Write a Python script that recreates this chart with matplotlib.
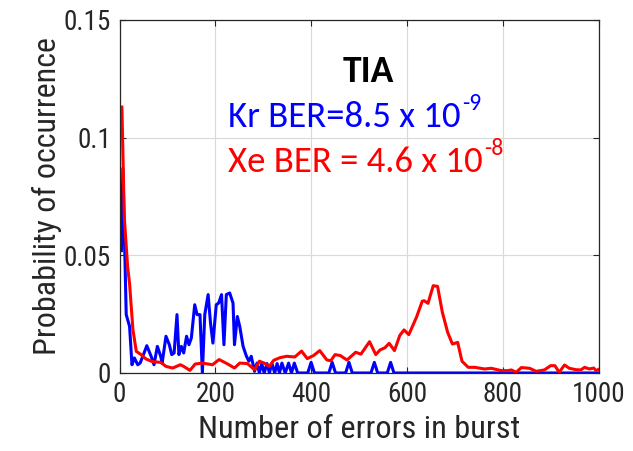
import matplotlib
matplotlib.use("Agg")
import matplotlib.pyplot as plt
from matplotlib import font_manager as fm
from matplotlib.transforms import offset_copy

# ---- data ----
kr_x = [4, 7, 14, 21, 26, 31, 38, 43, 50, 57, 66, 72, 79, 86, 89, 97, 104, 109,
        114, 120, 124, 129, 134, 140, 145, 150, 157, 162, 168, 173, 178, 185, 190,
        195, 202, 207, 213, 218, 223, 230, 237, 240, 246, 251, 258, 265, 270, 275,
        282, 287, 292, 297, 302, 308, 313, 318, 324, 329, 334, 339, 346, 353, 359,
        365, 372, 393, 400, 407, 437, 444, 451, 472, 479, 486, 525, 532, 539, 559,
        566, 573, 1000]
kr_y = [0.052, 0.087, 0.0248, 0.0198, 0.0035, 0.0064, 0.0035, 0.0042, 0.0078,
        0.0116, 0.0071, 0.0035, 0.0113, 0.0071, 0.0042, 0.0156, 0.012, 0.0078,
        0.0085, 0.0248, 0.0078, 0.0113, 0.0085, 0.0156, 0.012, 0.0149, 0.029,
        0.0248, 0.0248, 0.0, 0.0248, 0.0333, 0.0212, 0.0127, 0.029, 0.0297, 0.0333,
        0.012, 0.0333, 0.034, 0.0297, 0.012, 0.024, 0.0198, 0.0113, 0.0071, 0.005,
        0.0071, 0.0007, 0.0042, 0.0, 0.0040, 0.0, 0.0040, 0.0, 0.0042, 0.0, 0.0040,
        0.0, 0.0042, 0.0, 0.0042, 0.0, 0.0042, 0.0, 0.0, 0.0045, 0.0, 0.0, 0.0045,
        0.0, 0.0, 0.0045, 0.0, 0.0, 0.0045, 0.0, 0.0, 0.0045, 0.0, 0.0]

xe_x = [5, 10, 17, 21, 28, 35, 45, 55, 66, 76, 86, 97, 111, 127, 134, 147, 158,
        173, 194, 208, 226, 240, 251, 267, 282, 292, 302, 313, 322, 335, 349, 366,
        380, 392, 405, 418, 433, 441, 450, 461, 475, 493, 504, 522, 535, 544, 554,
        563, 574, 585, 594, 604, 620, 632, 636, 644, 655, 664, 674, 685, 695, 706,
        715, 728, 742, 762, 776, 797, 811, 818, 828, 839, 856, 870, 887, 900, 909,
        918, 929, 939, 953, 963, 971, 981, 990, 995, 1000]
xe_y = [0.113, 0.066, 0.045, 0.038, 0.0184, 0.0092, 0.0078, 0.006, 0.005, 0.0047,
        0.0045, 0.0028, 0.0021, 0.0035, 0.0028, 0.0011, 0.0038, 0.0042, 0.0035,
        0.0057, 0.0038, 0.0021, 0.0042, 0.004, 0.0014, 0.005, 0.0042, 0.0028,
        0.0054, 0.0065, 0.0071, 0.0068, 0.0093, 0.0061, 0.0074, 0.0095, 0.0055,
        0.0052, 0.0078, 0.0074, 0.0055, 0.0088, 0.008, 0.0133, 0.0078, 0.0098,
        0.0107, 0.0126, 0.0095, 0.0159, 0.0183, 0.0163, 0.0237, 0.0305, 0.0307,
        0.0296, 0.0371, 0.0368, 0.0258, 0.0173, 0.0123, 0.013, 0.005, 0.0024,
        0.0024, 0.0017, 0.002, 0.001, 0.001, 0.0013, 0.0003, 0.0023, 0.002, 0.0007,
        0.0013, 0.0031, 0.0031, 0.0003, 0.0034, 0.002, 0.0014, 0.0013, 0.0024,
        0.0017, 0.0021, 0.001, 0.0015]

x_ticks = [0, 200, 400, 600, 800, 1000]
y_ticks = [0, 0.05, 0.1, 0.15]
y_tick_labels = ["0", "0.05", "0.1", "0.15"]
kr_label, kr_exp = "Kr BER=8.5 x 10", "-9"
xe_label, xe_exp = "Xe BER = 4.6 x 10", "-8"

available = {f.name for f in fm.fontManager.ttflist}
def pick(prefs, default='DejaVu Sans'):
    for p in prefs:
        if p in available:
            return p
    return default

tick_font = pick(['Liberation Sans Narrow', 'Arial Narrow', 'Roboto Condensed',
                  'Archivo Narrow', 'PT Sans Narrow', 'Roboto'])
ann_font = pick(['Carlito', 'Calibri', 'Lato'])

fig = plt.figure(figsize=(6.33, 4.51), dpi=100)
ax = fig.add_axes([0.1888, 0.173, 0.7567, 0.7827])

ax.plot(kr_x, kr_y, color='#0000ff', lw=2.2)
ax.plot(xe_x, xe_y, color='#ff0000', lw=2.2)

ax.set_xlim(0, 1000)
ax.set_ylim(0, 0.15)
ax.set_xticks(x_ticks)
ax.set_yticks(y_ticks)
ax.set_yticklabels(y_tick_labels)
ax.grid(True, color='#d9d9d9', lw=0.8)
ax.set_axisbelow(True)
for lab in ax.get_xticklabels() + ax.get_yticklabels():
    lab.set_fontfamily(tick_font)
    lab.set_fontsize(19.5)
    lab.set_color('#262626')
ax.tick_params(direction='in', top=True, right=True, length=4, color='#262626', pad=6)
for s in ax.spines.values():
    s.set_color('#262626')
    s.set_linewidth(0.9)

ax.set_xlabel("Number of errors in burst", fontfamily=tick_font,
              fontsize=23.3, color='#262626', labelpad=5)
ax.set_ylabel("Probability of occurrence", fontfamily=tick_font,
              fontsize=23, color='#262626', labelpad=1)

ax.text(519, 0.1238, "TIA", ha='center', va='baseline', fontfamily=ann_font,
        fontweight='bold', fontsize=27, color='black')
t1 = ax.text(227, 0.1047, kr_label, ha='left', va='baseline',
             fontfamily=ann_font, fontsize=26.5, color='#0000ff')
t2 = ax.text(227, 0.0855, xe_label, ha='left', va='baseline',
             fontfamily=ann_font, fontsize=26.5, color='#ff0000')

fig.canvas.draw()
r = fig.canvas.get_renderer()
inv = ax.transData.inverted()
for t, e, c in [(t1, kr_exp, '#0000ff'), (t2, xe_exp, '#ff0000')]:
    bb = t.get_window_extent(r)
    xd, _ = inv.transform((bb.x1, bb.y0))
    _, yd = t.get_position()
    tr = offset_copy(ax.transData, fig=fig, x=1, y=12, units='points')
    ax.text(xd, yd, e, ha='left', va='baseline', fontfamily=ann_font,
            fontsize=17, color=c, transform=tr)

fig.savefig("out.png", dpi=100)
